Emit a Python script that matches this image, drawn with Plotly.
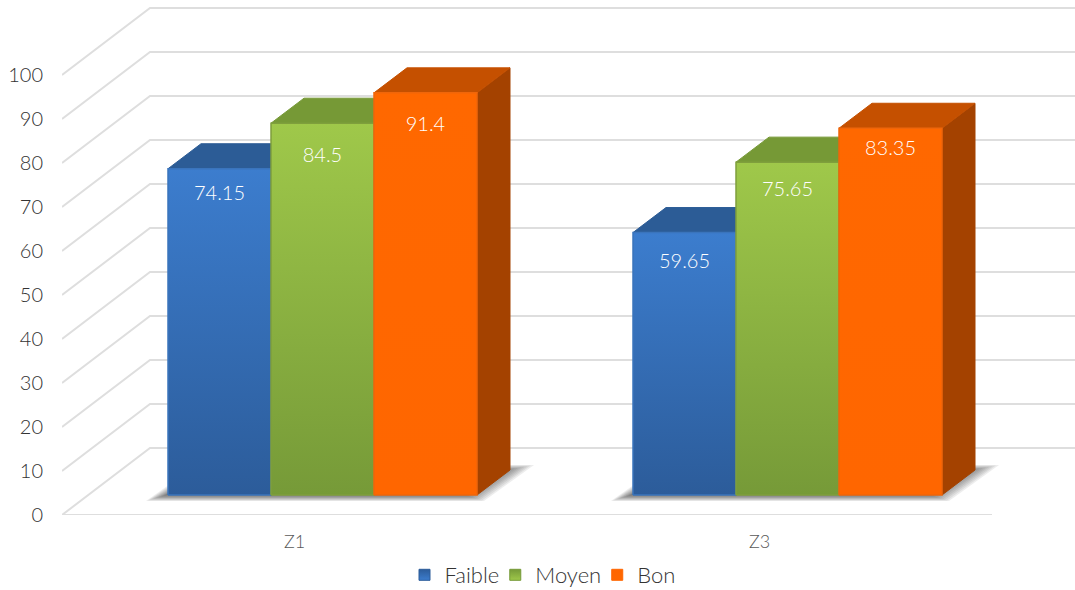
import plotly.graph_objects as go

categories = ["Z1", "Z3"]
series_names = ["Faible", "Moyen", "Bon"]
faible = [74.15, 59.65]
moyen = [84.5, 75.65]
bon = [91.4, 83.35]
y_ticks = [0, 10, 20, 30, 40, 50, 60, 70, 80, 90, 100]
series_values = [faible, moyen, bon]

# layout constants (pixels of the page)
W, H = 1075, 590
L, T, B = 62, 3, 75
PX_X = 465      # pixels per category
PX_Y = 4.4      # pixels per value unit
FONT = "Lato, sans-serif"

STYLE = {
    "Faible": dict(top="#3C7DCE", bot="#2C5C9A", cap="#2C5C96", side="#23497A", edge="#3A74BC"),
    "Moyen": dict(top="#9FC84A", bot="#769A38", cap="#769936", side="#5E7A2C", edge="#7F9F3C"),
    "Bon": dict(top="#FF6800", bot="#FF6600", cap="#C55000", side="#A44200", edge="#F0660A"),
}
LABEL_DROP = [[26, 34, 33], [30, 29, 22]]  # pixels under the bar top


def dx(px):
    return px / PX_X


def dy(px):
    return px / PX_Y


BAR_W = 103
GROUP_SHIFT = 28
FRONT_LIFT = 20
DEPTH_X, DEPTH_Y = 33, 25
WALL_X, WALL_Y = 88, 67
x_max = (W - L) / PX_X
y_max = (H - B - T) / PX_Y

fig = go.Figure()

# wall and floor gridlines
gx, gy = [], []
for t in y_ticks:
    gx += [0, dx(WALL_X), x_max, None]
    gy += [t, t + dy(WALL_Y), t + dy(WALL_Y), None]
fig.add_trace(go.Scatter(x=gx, y=gy, mode="lines", line=dict(color="#DEDEDE", width=2),
                         showlegend=False, hoverinfo="skip"))
# front edge of the floor
fig.add_trace(go.Scatter(x=[0, 2], y=[0, 0], mode="lines", line=dict(color="#DEDEDE", width=2),
                         showlegend=False, hoverinfo="skip", cliponaxis=False))

# floor shadows
for ci in range(len(categories)):
    c = ci + 0.5 + dx(GROUP_SHIFT)
    x0 = c - dx(1.5 * BAR_W)
    x1 = c + dx(1.5 * BAR_W)
    for inset in range(0, 22, 2):
        xs = [x0 + dx(-22 + inset), x1 + dx(7 - inset), x1 + dx(57 - inset * 1.6), x0 + dx(29 + inset)]
        ys = [dy(14 + inset * 0.3), dy(14 + inset * 0.3), dy(50 - inset * 0.3), dy(50 - inset * 0.3)]
        fig.add_trace(go.Scatter(x=xs + xs[:1], y=ys + ys[:1], mode="lines", fill="toself",
                                 fillcolor="rgba(60,60,60,0.09)", line=dict(width=0),
                                 showlegend=False, hoverinfo="skip"))

# 3D bars
base = dy(FRONT_LIFT)
for ci, cat in enumerate(categories):
    c = ci + 0.5 + dx(GROUP_SHIFT)
    for si, name in enumerate(series_names):
        v = series_values[si][ci]
        s = STYLE[name]
        x0 = c + dx((si - 1.5) * BAR_W)
        x1 = x0 + dx(BAR_W)
        top = base + v
        ox, oy = dx(DEPTH_X), dy(DEPTH_Y)
        faces = [
            ([x1, x1 + ox, x1 + ox, x1, x1], [base, base + oy, top + oy, top, base], s["side"]),
            ([x0, x1, x1 + ox, x0 + ox, x0], [top, top, top + oy, top + oy, top], s["cap"]),
        ]
        for fx, fy, col in faces:
            fig.add_trace(go.Scatter(x=fx, y=fy, mode="lines", fill="toself", fillcolor=col,
                                     line=dict(color=col, width=1),
                                     showlegend=False, hoverinfo="skip"))
        fig.add_trace(go.Scatter(
            x=[x0, x1, x1, x0, x0], y=[base, base, top, top, base], mode="lines", fill="toself",
            fillgradient=dict(type="vertical", colorscale=[[0, s["bot"]], [1, s["top"]]]),
            line=dict(color=s["edge"], width=1.5),
            name=f"{name} {cat}", showlegend=False, hoverinfo="skip"))

# data labels
for ci, cat in enumerate(categories):
    c = ci + 0.5 + dx(GROUP_SHIFT)
    for si, name in enumerate(series_names):
        v = series_values[si][ci]
        fig.add_trace(go.Scatter(
            x=[c + dx((si - 1) * BAR_W)], y=[base + v - dy(LABEL_DROP[ci][si])],
            mode="text", text=[str(v)], textposition="middle center",
            textfont=dict(family=FONT, size=20, color="#FFFFFF", weight=300),
            showlegend=False, hoverinfo="skip"))

# legend entries
for name in series_names:
    s = STYLE[name]
    fig.add_trace(go.Scatter(
        x=[None], y=[None], mode="markers", name=name,
        marker=dict(symbol="square", size=11, color=s["bot"],
                    gradient=dict(type="vertical", color=s["top"]),
                    line=dict(color=s["bot"], width=1))))

plot_h = H - T - B
fig.update_layout(
    width=W, height=H, autosize=False,
    margin=dict(l=L, r=0, t=T, b=B, pad=0, autoexpand=False),
    paper_bgcolor="white", plot_bgcolor="rgba(0,0,0,0)",
    font=dict(family=FONT, color="#404040"),
    xaxis=dict(range=[0, x_max], tickmode="array", tickvals=[i + 0.5 for i in range(len(categories))],
               ticktext=categories, showgrid=False, zeroline=False, showline=False,
               ticks="outside", ticklen=10, tickcolor="rgba(0,0,0,0)",
               tickfont=dict(family=FONT, size=18, color="#595959", weight=300)),
    yaxis=dict(range=[0, y_max], tickmode="array", tickvals=y_ticks, showgrid=False, zeroline=False,
               showline=False, ticks="outside", ticklen=14, tickcolor="rgba(0,0,0,0)",
               tickfont=dict(family=FONT, size=20, color="#333333", weight=300)),
    legend=dict(orientation="h", x=(547 - L) / (W - L), xanchor="center",
                y=-(60 / plot_h), yanchor="middle", indentation=-9,
                font=dict(family=FONT, size=22, color="#333333", weight=300), bgcolor="rgba(0,0,0,0)",
                itemclick=False, itemdoubleclick=False),
    showlegend=True,
)

fig.write_html("out.html", config={"displayModeBar": False},
               post_script="document.body.style.margin='0';")
